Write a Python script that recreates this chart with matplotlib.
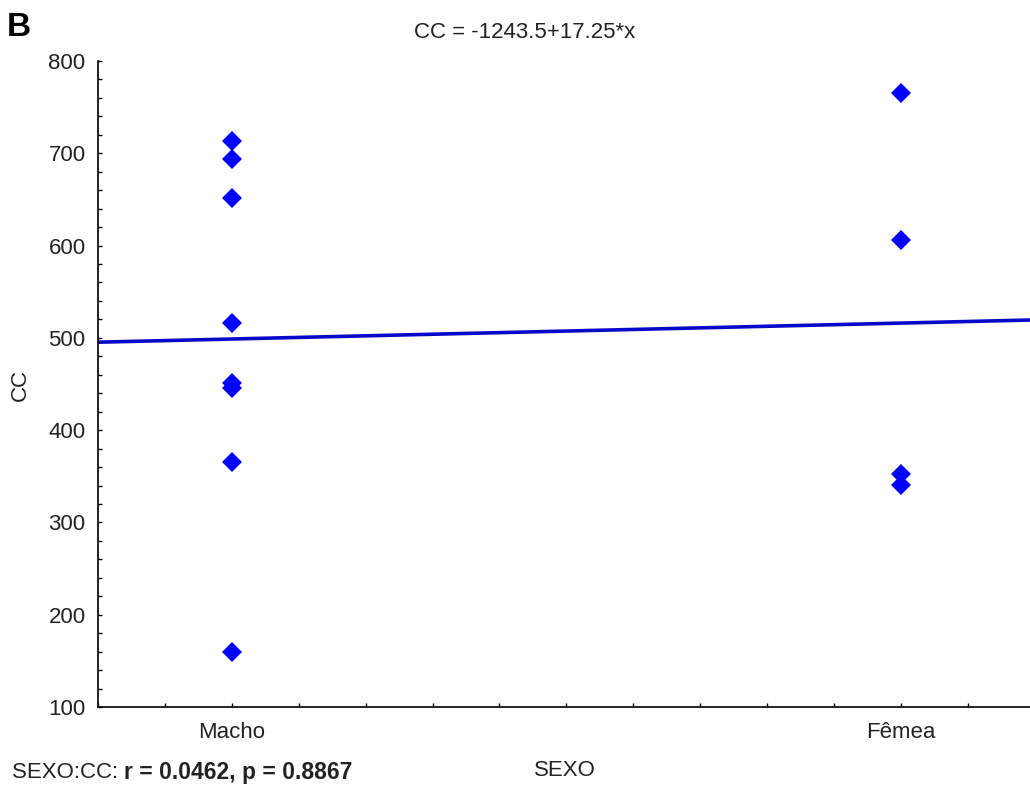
import numpy as np
import matplotlib.pyplot as plt
from matplotlib.ticker import MultipleLocator

plt.rcParams['font.family'] = ['Liberation Sans', 'DejaVu Sans']

# Data (SEXO coded as 101 = Macho, 102 = Femea)
macho_cc = [713, 694, 652, 516, 451, 446, 366, 160]
femea_cc = [765, 606, 353, 341]
group_codes = [101, 102]
group_labels = ['Macho', 'Fêmea']

# Regression given in the title
intercept = -1243.5
slope = 17.25
r_val = 0.0462
p_val = 0.8867

text_col = '#222222'
fs = 16

fig = plt.figure(figsize=(10.30, 7.87), dpi=100)
ax = fig.add_axes([98/1030, 80/787, 1 - 98/1030, (707 - 61)/787])

x_lim = (100.8, 102.193)
xs = np.array(x_lim)
ax.plot(xs, intercept + slope*xs, color='#0808c8', linewidth=2.6, zorder=2)

ax.plot([group_codes[0]]*len(macho_cc), macho_cc, linestyle='', marker='D',
        markersize=10, color='#0000ff', markeredgewidth=0, zorder=3)
ax.plot([group_codes[1]]*len(femea_cc), femea_cc, linestyle='', marker='D',
        markersize=10, color='#0000ff', markeredgewidth=0, zorder=3)

ax.set_xlim(x_lim)
ax.set_ylim(100, 800)
ax.set_xticks(group_codes)
ax.set_xticklabels(group_labels)
ax.xaxis.set_minor_locator(MultipleLocator(0.1))
ax.set_yticks(np.arange(100, 801, 100))
ax.yaxis.set_minor_locator(MultipleLocator(20))

ax.spines['top'].set_visible(False)
ax.spines['right'].set_visible(False)
ax.spines['left'].set_linewidth(1.2)
ax.spines['bottom'].set_linewidth(1.2)
ax.tick_params(which='both', direction='in', length=3, width=1, colors='black')
ax.tick_params(axis='y', pad=9, labelsize=fs, labelcolor=text_col)
ax.tick_params(axis='x', pad=11, labelsize=fs, labelcolor=text_col)

fig.text(525/1030, 1 - 33/787, f'CC = {intercept}+{slope}*x', fontsize=fs,
         color=text_col, ha='center', va='center')
fig.text(20/1030, 1 - 385/787, 'CC', fontsize=fs, color=text_col,
         rotation=90, ha='center', va='center')
fig.text(565/1030, 1 - 771/787, 'SEXO', fontsize=fs, color=text_col,
         ha='center', va='center')

fig.text(7/1030, 1 - 27/787, 'B', fontsize=24, fontweight='bold',
         color='black', ha='left', va='center')

# bottom-left stats line, mixed normal/bold
t1 = fig.text(12/1030, 1 - 773/787, 'SEXO:CC: ', fontsize=fs, color=text_col,
              ha='left', va='center')
fig.canvas.draw()
bb = t1.get_window_extent()
fig.text(bb.x1/1030, 1 - 773/787, f'r = {r_val}, p = {p_val}', fontsize=16.5,
         fontweight='bold', color=text_col, ha='left', va='center')

plt.savefig('out.png', dpi=100)
plt.close()
